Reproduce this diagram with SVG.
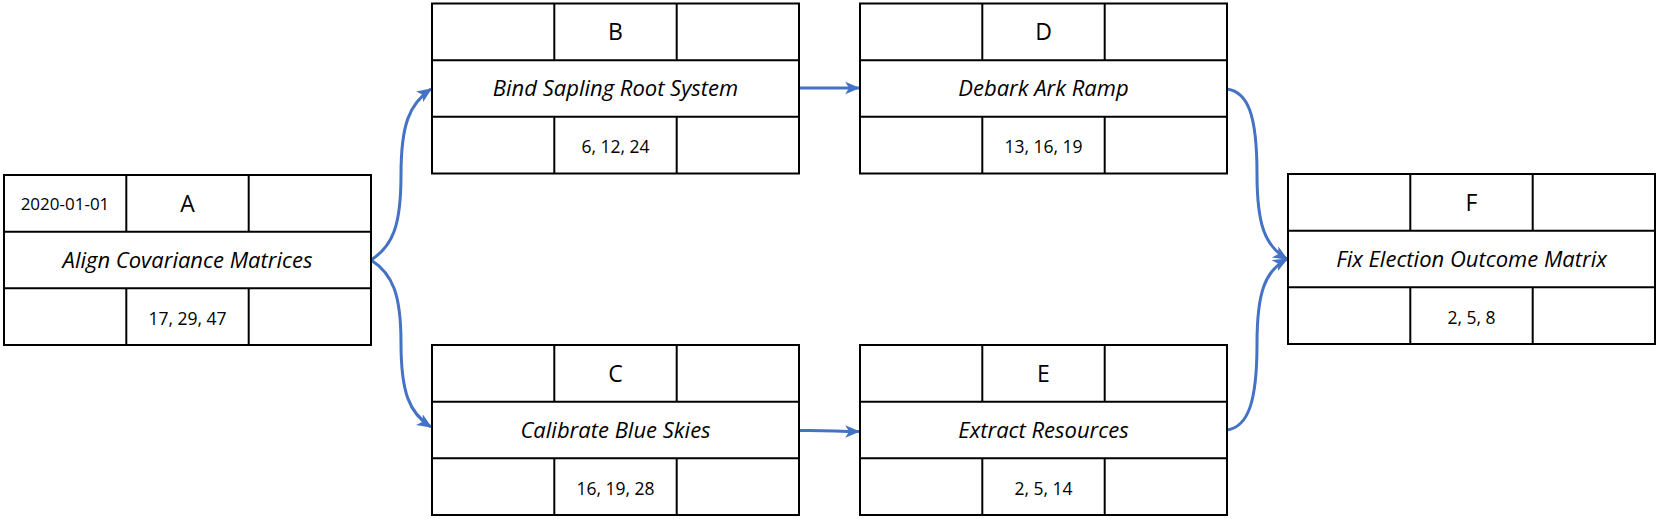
<svg xmlns="http://www.w3.org/2000/svg" width="1657" height="519" viewBox="0 0 1657 519">
<style>
.box{fill:#fff;stroke:#000;stroke-width:2}
.ln{stroke:#000;stroke-width:2}
.t{font-family:"Open Sans","Liberation Sans",sans-serif;fill:#000;text-anchor:middle}
.id{font-size:23px}
.dt{font-size:17px}
.nm{font-size:22px;font-style:italic}
.nu{font-size:17.5px}
.c{fill:none;stroke:#4472C4;stroke-width:3}
</style>
<defs>
<marker id="ah" markerUnits="userSpaceOnUse" markerWidth="15" markerHeight="15" viewBox="0 0 12 12" refX="11" refY="6" orient="auto">
<path d="M0,1 L12,6 L0,11 L3,6 Z" fill="#4472C4"/>
</marker>
<g id="tbl">
<rect class="box" x="0" y="0" width="367" height="170"/>
<line class="ln" x1="0" y1="56.7" x2="367" y2="56.7"/>
<line class="ln" x1="0" y1="113.3" x2="367" y2="113.3"/>
<line class="ln" x1="122.3" y1="0" x2="122.3" y2="56.7"/>
<line class="ln" x1="244.7" y1="0" x2="244.7" y2="56.7"/>
<line class="ln" x1="122.3" y1="113.3" x2="122.3" y2="170"/>
<line class="ln" x1="244.7" y1="113.3" x2="244.7" y2="170"/>
</g>
</defs>
<g id="connectors">
<path class="c" marker-end="url(#ah)" d="M371,260 C393,246 401,225 401,175 C401,125 409,104 431,89"/>
<path class="c" marker-end="url(#ah)" d="M371,260 C393,274 401,295 401,343 C401,392 409,413 431,427"/>
<path class="c" marker-end="url(#ah)" d="M799,88 L859,88"/>
<path class="c" marker-end="url(#ah)" d="M799,430.5 C830,430 835,431.5 859,431.5"/>
<path class="c" marker-end="url(#ah)" d="M1227,89 C1248,92 1257,115 1257,174 C1257,225 1265,246 1287,259"/>
<path class="c" marker-end="url(#ah)" d="M1227,430 C1248,427 1257,402 1257,344 C1257,292 1265,271 1287,259"/>
</g>
<g id="node-A" transform="translate(4,175)">
<use href="#tbl"/>
<text class="t dt" x="61" y="35">2020-01-01</text>
<text class="t id" x="183.5" y="36.5">A</text>
<text class="t nm" x="183.5" y="92.5">Align Covariance Matrices</text>
<text class="t nu" x="183.5" y="149.5">17, 29, 47</text>
</g>
<g id="node-B" transform="translate(432,3.5)">
<use href="#tbl"/>
<text class="t id" x="183.5" y="36.5">B</text>
<text class="t nm" x="183.5" y="92.5">Bind Sapling Root System</text>
<text class="t nu" x="183.5" y="149.5">6, 12, 24</text>
</g>
<g id="node-C" transform="translate(432,345)">
<use href="#tbl"/>
<text class="t id" x="183.5" y="36.5">C</text>
<text class="t nm" x="183.5" y="92.5">Calibrate Blue Skies</text>
<text class="t nu" x="183.5" y="149.5">16, 19, 28</text>
</g>
<g id="node-D" transform="translate(860,3.5)">
<use href="#tbl"/>
<text class="t id" x="183.5" y="36.5">D</text>
<text class="t nm" x="183.5" y="92.5">Debark Ark Ramp</text>
<text class="t nu" x="183.5" y="149.5">13, 16, 19</text>
</g>
<g id="node-E" transform="translate(860,345)">
<use href="#tbl"/>
<text class="t id" x="183.5" y="36.5">E</text>
<text class="t nm" x="183.5" y="92.5">Extract Resources</text>
<text class="t nu" x="183.5" y="149.5">2, 5, 14</text>
</g>
<g id="node-F" transform="translate(1288,174)">
<use href="#tbl"/>
<text class="t id" x="183.5" y="36.5">F</text>
<text class="t nm" x="183.5" y="92.5">Fix Election Outcome Matrix</text>
<text class="t nu" x="183.5" y="149.5">2, 5, 8</text>
</g>
</svg>
